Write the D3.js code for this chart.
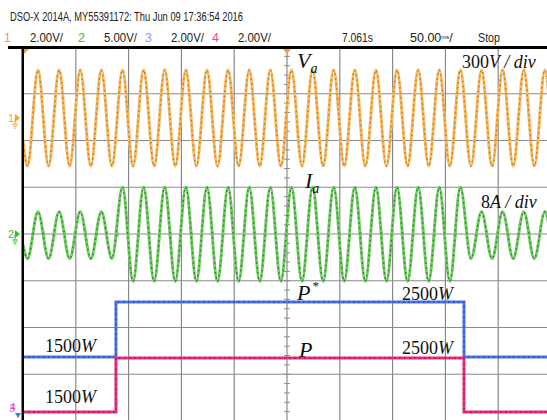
<!DOCTYPE html>
<html>
<head>
<meta charset="utf-8">
<script src="https://cdn.jsdelivr.net/npm/d3@7/dist/d3.min.js"></script>
<style>
  body { margin: 0; background: #fff; }
  svg { display: block; }
  .hdr { font-family: "Liberation Sans", Arial, sans-serif; font-size: 12.5px; fill: #222; }
  .lbl { font-family: "Liberation Serif", "Times New Roman", serif; fill: #111; }
</style>
</head>
<body>
<svg id="chart" width="547" height="420"></svg>
<script>
// time of each waveform peak / trough (ms)
const waveTimes = [0,
  4.2, 14.2, 24.2, 34.2, 44.2, 54.2, 64.2, 74.2, 84.2, 94.2,
  104.2, 114.2, 124.2, 134.2, 144.2, 154.2, 164.2, 174.2, 184.2, 194.2,
  204.2, 214.2, 224.2, 234.2, 244.2, 254.2, 264.2, 274.2, 284.2, 294.2,
  304.2, 314.2, 324.2, 334.2, 344.2, 354.2, 364.2, 374.2, 384.2, 394.2,
  404.2, 414.2, 424.2, 434.2, 444.2, 454.2, 464.2, 474.2, 484.2, 494.2,
  500];

// phase voltage Va (V)
const vaValues = [-140,
  -308, 308, -308, 308, -308, 308, -308, 308, -308, 308,
  -308, 308, -308, 308, -308, 308, -308, 308, -308, 308,
  -308, 308, -308, 308, -308, 308, -308, 308, -308, 308,
  -308, 308, -308, 308, -308, 308, -308, 308, -308, 308,
  -308, 308, -308, 308, -308, 308, -308, 308, -308, 308,
  -90];

// phase current Ia (A)
const iaValues = [-1.8,
  -4.2, 3.8, -4.2, 3.8, -4.2, 3.8, -4.2, 3.8, -4.2, 8.0,
  -8.1, 8.0, -8.1, 8.0, -8.1, 8.0, -8.1, 8.0, -8.1, 8.0,
  -8.1, 8.0, -8.1, 8.0, -8.1, 8.0, -8.1, 8.0, -8.1, 8.0,
  -8.1, 8.0, -8.1, 8.0, -8.1, 8.0, -8.1, 8.0, -8.1, 8.0,
  -8.1, 8.0, -4.2, 3.8, -4.2, 3.8, -4.2, 3.8, -4.2, 3.8,
  -1.2];

// power reference P* and measured P (W)
const powerTimes = [0, 88, 88, 417.6, 417.6, 500];
const pRefValues = [1500, 1500, 2500, 2500, 1500, 1500];
const pValues = [1500, 1500, 2500, 2500, 1500, 1500];

const channels = [
  {id: '1', scale: '2.00V/', color: '#f5a030'},
  {id: '2', scale: '5.00V/', color: '#33c033'},
  {id: '3', scale: '2.00V/', color: '#8a98ff'},
  {id: '4', scale: '2.00V/', color: '#ff3c9c'}
];

function drawChart() {
  const svg = d3.select('#chart');
  const left = 23, top = 47, divW = 52.8, divH = 46.75;

  const x = d3.scaleLinear().domain([0, 500]).range([left, left + 10 * divW]);
  const y = d3.scaleLinear().domain([-4, 4]).range([top + 8 * divH, top]);

  // channel -> screen divisions
  const ch1 = v => 2.48 + v / 300;
  const ch2 = v => v / 8;
  const ch3 = v => -4.396 + v / 850;
  const ch4 = v => -5.539 + v / 866;

  svg.append('defs').append('clipPath').attr('id', 'screen')
    .append('rect').attr('x', left).attr('y', top).attr('width', 547 - left).attr('height', 420 - top);

  // header
  svg.append('text').attr('class', 'hdr').attr('x', 10).attr('y', 21)
    .attr('textLength', 233).attr('lengthAdjust', 'spacingAndGlyphs')
    .text('DSO-X 2014A, MY55391172: Thu Jun 09 17:36:54 2016');

  const chX = [4, 78, 145, 212];
  channels.forEach((c, i) => {
    svg.append('text').attr('class', 'hdr').attr('x', chX[i]).attr('y', 42)
      .style('fill', c.color).text(c.id);
    svg.append('text').attr('class', 'hdr').attr('x', chX[i] + 26).attr('y', 42)
      .attr('textLength', 33).attr('lengthAdjust', 'spacingAndGlyphs').text(c.scale);
  });
  svg.append('text').attr('class', 'hdr').attr('x', 342).attr('y', 42)
    .attr('textLength', 31).attr('lengthAdjust', 'spacingAndGlyphs').text('7.061s');
  const tb = svg.append('text').attr('class', 'hdr').attr('x', 410).attr('y', 42);
  tb.append('tspan').text('50.00');
  tb.append('tspan').style('font-size', '6px').attr('dy', -3).text('ms');
  tb.append('tspan').attr('dy', 3).text('/');
  svg.append('text').attr('class', 'hdr').attr('x', 478).attr('y', 42)
    .attr('textLength', 22).attr('lengthAdjust', 'spacingAndGlyphs').text('Stop');

  // grid
  const grid = svg.append('g').attr('clip-path', 'url(#screen)');
  grid.selectAll('line.v')
    .data(d3.range(50, 500, 50))
    .join('line')
      .attr('x1', d => x(d)).attr('x2', d => x(d))
      .attr('y1', top).attr('y2', 420)
      .attr('stroke', '#8a8a8a').attr('stroke-width', 1.2);
  grid.selectAll('line.h')
    .data(d3.range(-3, 4))
    .join('line')
      .attr('x1', left).attr('x2', 547)
      .attr('y1', d => y(d)).attr('y2', d => y(d))
      .attr('stroke', '#8a8a8a').attr('stroke-width', 1.2);

  // minor ticks on the centre lines
  grid.selectAll('line.tx')
    .data(d3.range(0, 500, 10))
    .join('line')
      .attr('x1', d => x(d)).attr('x2', d => x(d))
      .attr('y1', y(0) - 3).attr('y2', y(0) + 3)
      .attr('stroke', '#8a8a8a');
  grid.selectAll('line.ty')
    .data(d3.range(-4, 4, 0.2))
    .join('line')
      .attr('x1', x(250) - 3).attr('x2', x(250) + 3)
      .attr('y1', d => y(d)).attr('y2', d => y(d))
      .attr('stroke', '#8a8a8a');

  const traces = svg.append('g').attr('clip-path', 'url(#screen)');

  function trace(times, values, map, light, dark, curve) {
    const line = d3.line()
      .x((d, i) => x(times[i]))
      .y(d => y(map(d)))
      .curve(curve);
    traces.append('path').attr('d', line(values))
      .attr('fill', 'none').attr('stroke', light).attr('stroke-width', 3);
    traces.append('path').attr('d', line(values))
      .attr('fill', 'none').attr('stroke', dark).attr('stroke-width', 1.4)
      .attr('stroke-dasharray', '1.5,3.5');
  }

  trace(waveTimes, vaValues, ch1, '#f4b865', '#c97800', d3.curveMonotoneX);
  trace(waveTimes, iaValues, ch2, '#74c866', '#1b8a1b', d3.curveMonotoneX);
  trace(powerTimes, pRefValues, ch3, '#4d74e6', '#2a44b4', d3.curveLinear);
  trace(powerTimes, pValues, ch4, '#e3307f', '#b20c58', d3.curveLinear);

  // frame
  svg.append('rect').attr('x', 8).attr('y', 46).attr('width', 539).attr('height', 3).attr('fill', '#000');
  svg.append('rect').attr('x', 21.5).attr('y', 46).attr('width', 2.5).attr('height', 374).attr('fill', '#000');

  // trigger markers
  svg.append('path').attr('d', `M${x(250) - 4},49 L${x(250) + 4},49 L${x(250)},54 Z`).attr('fill', '#f5a030');
  svg.append('path').attr('d', `M24,49 L29,49 L24,54 Z`).attr('fill', '#f5a030');

  // channel ground markers
  function marker(id, color, yy) {
    svg.append('text').attr('class', 'hdr').attr('x', 8).attr('y', yy + 4)
      .style('fill', color).style('font-size', '11px').text(id);
    svg.append('path').attr('d', `M15,${yy - 4} L20,${yy} L15,${yy + 4} Z`).attr('fill', color);
    svg.append('path').attr('d', `M12,${yy + 6} h6 M13,${yy + 8} h4 M14,${yy + 10} h2 M15,${yy} v6`)
      .attr('stroke', color).attr('stroke-width', 1);
  }
  marker('1', channels[0].color, y(ch1(0)));
  marker('2', channels[1].color, y(ch2(0)));
  svg.append('text').attr('class', 'hdr').attr('x', 9).attr('y', 412)
    .style('fill', channels[2].color).style('font-size', '10px').text('3');
  svg.append('text').attr('class', 'hdr').attr('x', 10).attr('y', 411)
    .style('fill', channels[3].color).style('font-size', '10px').text('4');
  svg.append('path').attr('d', 'M15,413 L21,413 L18,418 Z').attr('fill', '#4d74e6');

  // annotations
  const ann = svg.append('g').attr('class', 'lbl');
  function sym(xx, yy, main, sub, sup) {
    const t = ann.append('text').attr('x', xx).attr('y', yy).style('font-size', '22px');
    t.append('tspan').style('font-style', 'italic').text(main);
    if (sub) t.append('tspan').style('font-style', 'italic').style('font-size', '14px').attr('dy', 5).text(sub);
    if (sup) t.append('tspan').style('font-size', '13px').attr('dy', -10).attr('dx', 2).text(sup);
  }
  function value(xx, yy, num, unit, size) {
    const t = ann.append('text').attr('x', xx).attr('y', yy).style('font-size', size + 'px');
    t.append('tspan').text(num);
    t.append('tspan').style('font-style', 'italic').text(unit);
  }
  sym(297, 68, 'V', 'a');
  sym(305, 188, 'I', 'a');
  sym(297, 300, 'P', null, '*');
  sym(299, 357, 'P');
  value(462, 68, '300', 'V / div', 18);
  value(481, 208, '8', 'A / div', 18);
  value(402, 300, '2500', 'W', 18);
  value(402, 354, '2500', 'W', 18);
  value(45, 352, '1500', 'W', 18);
  value(45, 403, '1500', 'W', 18);
}

drawChart();
</script>
</body>
</html>
